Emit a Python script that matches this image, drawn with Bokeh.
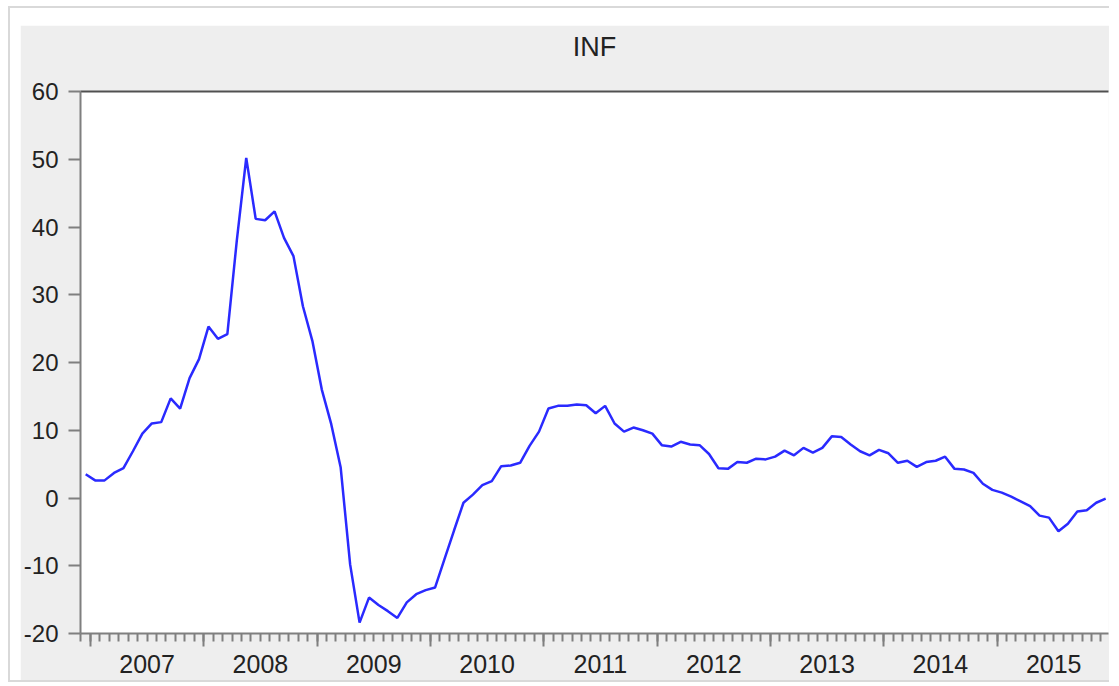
from bokeh.plotting import figure
from bokeh.models import (Range1d, FixedTicker, LinearAxis, CustomLabelingPolicy,
                          Spacer)
from bokeh.layouts import column, row
from bokeh.embed import file_html
from bokeh.resources import INLINE

# ---- data (monthly, first observation 2006M12) ----
title_text = "INF"
years = ["2007", "2008", "2009", "2010", "2011", "2012", "2013", "2014", "2015"]
y_ticks = [60, 50, 40, 30, 20, 10, 0, -10, -20]
inf = [3.5,
       2.6, 2.6, 3.7, 4.4, 6.9, 9.5, 11.0, 11.2, 14.7, 13.2, 17.7, 20.5,
       25.3, 23.5, 24.2, 38.0, 50.2, 41.2, 41.0, 42.3, 38.4, 35.7, 28.3, 23.2,
       16.0, 10.9, 4.5, -9.8, -18.4, -14.7, -15.8, -16.7, -17.7, -15.4, -14.2, -13.6,
       -13.2, -9.0, -4.8, -0.7, 0.5, 1.9, 2.5, 4.7, 4.8, 5.2, 7.7, 9.8,
       13.2, 13.6, 13.6, 13.8, 13.7, 12.5, 13.6, 11.0, 9.8, 10.4, 10.0, 9.5,
       7.8, 7.6, 8.3, 7.9, 7.8, 6.5, 4.4, 4.3, 5.3, 5.2, 5.8, 5.7,
       6.1, 7.0, 6.3, 7.4, 6.7, 7.4, 9.1, 9.0, 7.9, 6.9, 6.3, 7.1,
       6.6, 5.2, 5.5, 4.6, 5.3, 5.5, 6.1, 4.3, 4.2, 3.7, 2.1, 1.2,
       0.8, 0.2, -0.5, -1.2, -2.6, -2.9, -4.9, -3.8, -2.0, -1.8, -0.7, -0.1]

n = len(inf)
idx = list(range(n))            # observation number (0 = 2006M12)
months_per_year = 12

FONT = "Liberation Sans"
TXT = "#222222"
AX = "#7f7f7f"
hide_labels = CustomLabelingPolicy(code="return []")

p = figure(width=1089, height=655, output_backend="svg", toolbar_location=None,
           x_range=Range1d(-0.55, 108.3), y_range=Range1d(-20, 60),
           min_border_left=60, min_border_right=1, min_border_top=66,
           min_border_bottom=47, x_axis_type=None, y_axis_type=None)
p.border_fill_color = "#eeeeee"
p.background_fill_color = "white"
p.outline_line_color = None
p.grid.visible = False

p.title.text = title_text
p.title.align = "center"
p.title.text_font = FONT
p.title.text_font_size = "27px"
p.title.text_font_style = "normal"
p.title.text_color = TXT
p.title.standoff = 0

# bottom axis 1: year boundaries (major) and months (minor), no labels
major = [0.5 + months_per_year * k for k in range(len(years))]
minor = [i - 0.5 for i in range(n)]
xax = LinearAxis(ticker=FixedTicker(ticks=major, minor_ticks=minor),
                 axis_line_color=AX, axis_line_width=2,
                 major_tick_line_color=AX, major_tick_line_width=2,
                 major_tick_out=13, major_tick_in=0,
                 minor_tick_line_color=AX, minor_tick_line_width=2,
                 minor_tick_out=8, minor_tick_in=0,
                 major_label_standoff=0, major_label_text_font_size="7px",
                 major_label_policy=hide_labels)
p.add_layout(xax, "below")

# bottom axis 2: year names centred inside each year
centers = [m + 6.0 for m in major]
xlab = LinearAxis(ticker=FixedTicker(ticks=centers, minor_ticks=[]),
                  axis_line_color=None, major_tick_line_color=None,
                  minor_tick_line_color=None, major_tick_out=0, major_tick_in=0,
                  major_label_standoff=0,
                  major_label_overrides={c: y for c, y in zip(centers, years)},
                  major_label_text_font=FONT, major_label_text_font_size="25px",
                  major_label_text_color=TXT)
p.add_layout(xlab, "below")

yax = LinearAxis(ticker=FixedTicker(ticks=y_ticks, minor_ticks=[]),
                 axis_line_color=AX, axis_line_width=2,
                 major_tick_line_color=AX, major_tick_line_width=2,
                 major_tick_out=12, major_tick_in=0,
                 minor_tick_line_color=None,
                 major_label_standoff=10,
                 major_label_overrides={v: str(v) for v in y_ticks},
                 major_label_text_font=FONT, major_label_text_font_size="24px",
                 major_label_text_color=TXT)
p.add_layout(yax, "left")

# top frame line: invisible ticks with hidden labels give room under the title
top = LinearAxis(ticker=FixedTicker(ticks=[centers[4]], minor_ticks=[]),
                 axis_line_color="#505050", axis_line_width=2,
                 major_tick_out=22, major_tick_in=0,
                 major_tick_line_color=None, minor_tick_line_color=None,
                 major_label_standoff=0, major_label_text_font_size="7px",
                 major_label_policy=CustomLabelingPolicy(code="return []"))
p.add_layout(top, "above")

p.line(idx, inf, line_color="#2a2aff", line_width=2.5)

inner = column(Spacer(height=17),
               row(Spacer(width=10), p),
               styles={"border-left": "2px solid #d9d9d9",
                       "border-top": "2px solid #d9d9d9",
                       "border-bottom": "2px solid #d9d9d9"})
layout = column(Spacer(height=6), row(Spacer(width=8), inner))

open("out.html", "w").write(file_html(layout, INLINE))
